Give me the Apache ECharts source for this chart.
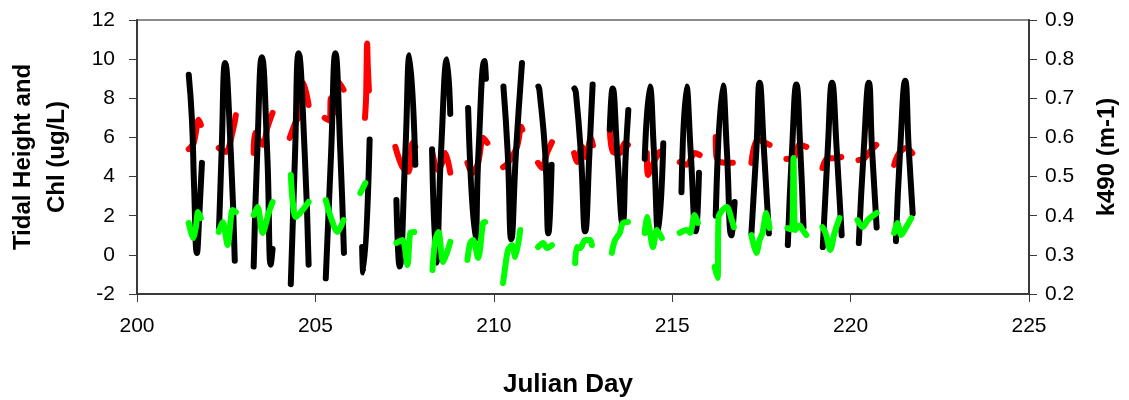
<!DOCTYPE html>
<html>
<head>
<meta charset="utf-8">
<script src="https://cdn.jsdelivr.net/npm/echarts@6/dist/echarts.min.js"></script>
<style>
html,body{margin:0;padding:0;background:#fff;}
#chart{width:1129px;height:400px;}
</style>
</head>
<body>
<div id="chart"></div>
<script>
// X axis ticks (Julian Day)
const xTicks = [200, 205, 210, 215, 220, 225];
const leftTicks = [-2, 0, 2, 4, 6, 8, 10, 12];
const rightTicks = [0.2, 0.3, 0.4, 0.5, 0.6, 0.7, 0.8, 0.9];

// Tidal height (left axis), one daily segment per entry: [day, height]
const tideSegments = [
  [[201.45,9.2],[201.54,6.9],[201.60,3.5],[201.68,0.1],[201.74,1.8],[201.82,4.7]],
  [[202.30,1.4],[202.37,5.2],[202.47,9.8],[202.63,5.2],[202.74,-0.3]],
  [[203.27,-0.6],[203.37,5.2],[203.50,10.1],[203.65,5.2],[203.75,-0.5],[203.80,0.3]],
  [[204.31,-1.5],[204.43,5.2],[204.53,10.3],[204.70,5.2],[204.81,-0.5]],
  [[205.29,-1.2],[205.44,5.2],[205.56,10.3],[205.70,5.2],[205.80,0.1]],
  [[206.31,0.4],[206.34,-0.9],[206.52,5.9]],
  [[207.27,2.8],[207.36,-0.6],[207.52,5.2],[207.64,10.2],[207.80,4.6]],
  [[208.27,5.4],[208.39,-0.4],[208.52,5.2],[208.69,10.0],[208.78,7.2]],
  [[209.28,7.5],[209.48,0.8],[209.57,5.2],[209.74,9.9],[209.78,9.0]],
  [[210.27,8.6],[210.39,5.2],[210.49,0.8],[210.62,5.2],[210.79,9.8]],
  [[211.25,8.6],[211.28,8.4],[211.44,5.2],[211.53,1.1],[211.62,4.6]],
  [[212.26,8.5],[212.30,8.3],[212.44,5.2],[212.56,1.2],[212.68,5.2],[212.77,8.7]],
  [[213.25,6.4],[213.33,8.5],[213.46,5.2],[213.61,1.6],[213.70,5.2],[213.77,7.4]],
  [[214.23,4.9],[214.37,8.6],[214.49,5.2],[214.61,1.1],[214.75,5.7]],
  [[215.26,3.2],[215.40,8.6],[215.52,5.2],[215.66,1.2],[215.75,4.2]],
  [[216.22,2.0],[216.42,8.65],[216.53,5.4],[216.66,1.0],[216.75,2.7]],
  [[217.22,1.1],[217.36,5.4],[217.45,8.8],[217.57,5.4],[217.71,1.1]],
  [[218.24,0.5],[218.36,5.4],[218.48,8.7],[218.59,5.4],[218.68,1.4]],
  [[219.22,0.4],[219.36,5.4],[219.48,8.8],[219.61,5.4],[219.75,1.0]],
  [[220.23,0.6],[220.37,5.4],[220.51,8.8],[220.60,5.4],[220.73,1.4]],
  [[221.27,0.7],[221.39,5.4],[221.53,8.9],[221.63,5.4],[221.74,2.1]]
];

// k490 (right axis), daily segments: [day, k490]
const k490Segments = [
  [[201.45,0.570],[201.59,0.586],[201.73,0.645],[201.79,0.632]],
  [[202.29,0.573],[202.49,0.563],[202.71,0.627],[202.77,0.657]],
  [[203.27,0.560],[203.30,0.611],[203.52,0.581],[203.66,0.627],[203.80,0.663]],
  [[204.28,0.599],[204.45,0.640],[204.53,0.652],[204.67,0.739],[204.81,0.683]],
  [[205.26,0.650],[205.40,0.643],[205.43,0.700],[205.50,0.660],[205.64,0.742],[205.79,0.722]],
  [[206.39,0.650],[206.42,0.700],[206.45,0.840],[206.47,0.780],[206.50,0.720]],
  [[207.24,0.576],[207.44,0.524],[207.61,0.512],[207.72,0.586],[207.80,0.576]],
  [[208.28,0.560],[208.42,0.517],[208.53,0.530],[208.64,0.560],[208.78,0.510]],
  [[209.26,0.535],[209.40,0.509],[209.56,0.535],[209.70,0.599],[209.82,0.586]],
  [[210.26,0.524],[210.40,0.535],[210.65,0.576],[210.77,0.627],[210.80,0.620]],
  [[211.24,0.535],[211.35,0.522],[211.49,0.560],[211.63,0.588]],
  [[212.25,0.560],[212.33,0.537],[212.47,0.576],[212.58,0.550],[212.72,0.600],[212.78,0.580]],
  [[213.25,0.619],[213.34,0.563],[213.53,0.560],[213.67,0.586],[213.76,0.581]],
  [[214.29,0.560],[214.32,0.504],[214.51,0.542],[214.65,0.563]],
  [[215.21,0.537],[215.41,0.530],[215.63,0.560],[215.77,0.555]],
  [[216.22,0.601],[216.24,0.550],[216.35,0.537],[216.70,0.535]],
  [[217.22,0.535],[217.39,0.594],[217.73,0.581]],
  [[218.20,0.545],[218.42,0.550],[218.57,0.581],[218.76,0.576]],
  [[219.21,0.522],[219.35,0.547],[219.55,0.547],[219.74,0.550]],
  [[220.22,0.542],[220.39,0.547],[220.53,0.563],[220.72,0.581]],
  [[221.22,0.530],[221.36,0.560],[221.56,0.573],[221.73,0.560]]
];

// Chl (left axis), daily segments: [day, chl]
const chlSegments = [
  [[201.45,1.63],[201.57,0.86],[201.65,1.42],[201.71,2.19],[201.79,1.88]],
  [[202.29,1.17],[202.40,1.68],[202.54,0.50],[202.68,2.29],[202.77,2.19]],
  [[203.27,2.04],[203.38,2.45],[203.52,1.12],[203.69,2.14],[203.80,2.70]],
  [[204.31,4.08],[204.36,2.80],[204.45,1.93],[204.64,2.29],[204.81,2.70]],
  [[205.29,2.80],[205.43,1.93],[205.62,1.17],[205.79,1.78]],
  [[206.26,3.16],[206.40,3.67]],
  [[207.27,0.61],[207.44,0.76],[207.58,-0.52],[207.66,1.12],[207.77,1.17]],
  [[208.28,-0.77],[208.36,0.76],[208.45,1.17],[208.58,-0.37],[208.78,0.66]],
  [[209.26,-0.26],[209.34,0.61],[209.42,0.76],[209.56,-0.16],[209.70,1.63],[209.76,1.68]],
  [[210.26,-1.44],[210.32,-0.62],[210.40,0.25],[210.51,0.50],[210.60,-0.11],[210.74,1.27]],
  [[211.24,0.40],[211.38,0.61],[211.49,0.35],[211.63,0.50]],
  [[212.28,-0.42],[212.33,0.40],[212.42,0.35],[212.56,0.76],[212.70,0.76],[212.75,0.50]],
  [[213.31,0.10],[213.34,0.40],[213.40,0.76],[213.53,1.12],[213.62,1.63],[213.76,1.68]],
  [[214.23,1.12],[214.29,1.93],[214.37,1.27],[214.46,0.40],[214.57,1.27],[214.71,0.86]],
  [[215.21,1.12],[215.41,1.27],[215.50,1.12],[215.63,2.04],[215.72,1.63]],
  [[216.19,-0.62],[216.27,-1.18],[216.30,1.93],[216.53,2.45],[216.67,1.78],[216.73,1.42]],
  [[217.22,1.01],[217.36,0.10],[217.45,0.76],[217.53,1.12],[217.64,2.14],[217.73,1.37]],
  [[218.23,1.37],[218.35,1.30],[218.40,4.95],[218.45,1.27],[218.57,1.50],[218.66,1.27],[218.76,1.01]],
  [[219.21,1.42],[219.30,1.12],[219.43,0.25],[219.55,1.12],[219.69,1.88]],
  [[220.19,1.78],[220.34,1.42],[220.48,1.78],[220.73,2.14]],
  [[221.22,1.12],[221.31,1.63],[221.42,1.01],[221.56,1.42],[221.70,1.88]]
];

const FONT = '"Liberation Sans", Arial, sans-serif';
const axisDark = '#3a3a3a';

function mk(segments, color, yIndex, smooth, z, width) {
  return segments.map(seg => ({
    type: 'line',
    yAxisIndex: yIndex,
    data: seg,
    symbol: 'none',
    smooth: smooth,
    z: z,
    silent: true,
    lineStyle: { color: color, width: width, cap: 'round', join: 'round' }
  }));
}

const series = []
  .concat(mk(k490Segments, '#ff0000', 1, 0.3, 2, 6))
  .concat(mk(tideSegments, '#000000', 0, 0.5, 3, 6))
  .concat(mk(chlSegments, '#00ff00', 0, 0.3, 4, 6));

const chart = echarts.init(document.getElementById('chart'), null, { renderer: 'canvas' });
chart.setOption({
  animation: false,
  backgroundColor: '#ffffff',
  grid: {
    left: 137, right: 100, top: 20, bottom: 106,
    outerBoundsMode: 'none',
    containLabel: false,
    show: true, borderColor: '#8c8c8c', borderWidth: 2, backgroundColor: 'transparent'
  },
  xAxis: {
    type: 'value',
    min: xTicks[0], max: xTicks[xTicks.length - 1], interval: 5,
    name: 'Julian Day',
    nameLocation: 'middle',
    nameGap: 78,
    nameTextStyle: { fontFamily: FONT, fontWeight: 'bold', fontSize: 26, color: '#000', padding: [0, 30, 0, 0] },
    axisLine: { show: true, onZero: false, lineStyle: { color: axisDark, width: 2 } },
    axisTick: { show: true, length: 8, inside: false, lineStyle: { color: axisDark, width: 1 } },
    axisLabel: { fontFamily: FONT, fontSize: 21, color: '#000', margin: 22 },
    splitLine: { show: false }
  },
  yAxis: [
    {
      type: 'value',
      position: 'left',
      min: leftTicks[0], max: leftTicks[leftTicks.length - 1], interval: 2,
      name: 'Tidal Height and\nChl (ug/L)',
      nameLocation: 'middle',
      nameRotate: 90,
      nameGap: 63,
      nameTextStyle: { fontFamily: FONT, fontWeight: 'bold', fontSize: 24, color: '#000', lineHeight: 34 },
      axisLine: { show: true, onZero: false, lineStyle: { color: axisDark, width: 2 } },
      axisTick: { show: true, length: 8, lineStyle: { color: axisDark, width: 1 } },
      axisLabel: { fontFamily: FONT, fontSize: 21, color: '#000', margin: 22 },
      splitLine: { show: false }
    },
    {
      type: 'value',
      position: 'right',
      min: rightTicks[0], max: rightTicks[rightTicks.length - 1], interval: 0.1,
      name: 'k490 (m-1)',
      nameLocation: 'middle',
      nameRotate: 90,
      nameGap: 66,
      nameTextStyle: { fontFamily: FONT, fontWeight: 'bold', fontSize: 24, color: '#000' },
      axisLine: { show: true, onZero: false, lineStyle: { color: axisDark, width: 2 } },
      axisTick: { show: true, length: 8, lineStyle: { color: axisDark, width: 1 } },
      axisLabel: { fontFamily: FONT, fontSize: 21, color: '#000', margin: 16,
        formatter: v => v.toFixed(1) },
      splitLine: { show: false }
    }
  ],
  series: series
});
</script>
</body>
</html>
